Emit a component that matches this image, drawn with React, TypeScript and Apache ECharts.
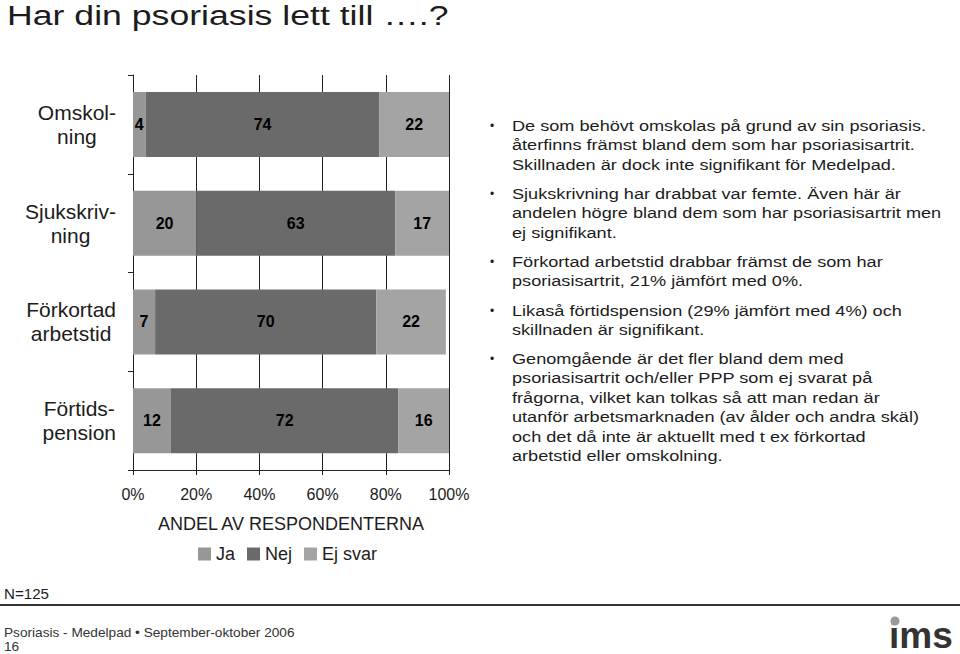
import React, { useEffect, useRef } from "react";
import * as echarts from "echarts";

// ---- data ----
const categories = ["Omskolning", "Sjukskrivning", "Förkortad arbetstid", "Förtidspension"];
const categoryLabelLines = [
  ["Omskol-", "ning"],
  ["Sjukskriv-", "ning"],
  ["Förkortad", "arbetstid"],
  ["Förtids-", "pension"],
];
const seriesNames = ["Ja", "Nej", "Ej svar"];
const jaValues = [4, 20, 7, 12];
const nejValues = [74, 63, 70, 72];
const ejSvarValues = [22, 17, 22, 16];
const xMin = 0;
const xMax = 100;
const xInterval = 20;

const titleText = "Har din psoriasis lett till ….?";
const axisTitle = "ANDEL AV RESPONDENTERNA";
const sampleNote = "N=125";
const footerLine1 = "Psoriasis - Medelpad • September-oktober 2006";
const footerLine2 = "16";
const bulletParagraphs = [
  [
    "De som behövt omskolas på grund av sin psoriasis.",
    "återfinns främst bland dem som har psoriasisartrit.",
    "Skillnaden är dock inte signifikant för Medelpad.",
  ],
  [
    "Sjukskrivning har drabbat var femte. Även här är",
    "andelen högre bland dem som har psoriasisartrit men",
    "ej signifikant.",
  ],
  ["Förkortad arbetstid drabbar främst de som har", "psoriasisartrit, 21% jämfört med 0%."],
  ["Likaså förtidspension (29% jämfört med 4%) och", "skillnaden är signifikant."],
  [
    "Genomgående är det fler bland dem med",
    "psoriasisartrit och/eller PPP som ej svarat på",
    "frågorna, vilket kan tolkas så att man redan är",
    "utanför arbetsmarknaden (av ålder och andra skäl)",
    "och det då inte är aktuellt med t ex förkortad",
    "arbetstid eller omskolning.",
  ],
];

// ---- style / layout ----
const FONT = "'Liberation Sans', Arial, Helvetica, sans-serif";
const COLORS = ["#979797", "#6a6a6a", "#a4a4a4"];
const TEXT_COLOR = "#1c1c1c";
const paragraphFirstLineCenters = [126, 194, 262, 311, 359];
const LINE_H = 19.5;

export default function App() {
  const ref = useRef<HTMLDivElement>(null);

  useEffect(() => {
    if (!ref.current) return;
    const chart = echarts.init(ref.current, undefined, { renderer: "svg" });

    const valueSets = [jaValues, nejValues, ejSvarValues];
    const series = seriesNames.map((name, i) => ({
      name,
      type: "bar",
      stack: "total",
      barWidth: 65,
      data: valueSets[i],
      itemStyle: { color: COLORS[i] },
      label: {
        show: true,
        position: "inside",
        formatter: "{c}",
        color: "#000",
        fontFamily: FONT,
        fontWeight: "bold",
        fontSize: 16,
      },
      emphasis: { disabled: true },
    }));

    const graphic: any[] = [
      {
        type: "text",
        x: 7,
        y: 16,
        scaleX: 1.32,
        style: {
          text: titleText,
          fontFamily: FONT,
          fontSize: 27,
          lineHeight: 27,
          fill: TEXT_COLOR,
          verticalAlign: "middle",
          textVerticalAlign: "middle",
        },
      },
      {
        type: "line",
        shape: { x1: 0, y1: 605, x2: 960, y2: 605 },
        style: { stroke: "#333", lineWidth: 2 },
      },
      {
        type: "text",
        x: 4,
        y: 594,
        scaleX: 1.08,
        style: {
          text: sampleNote,
          fontFamily: FONT,
          fontSize: 14,
          fill: TEXT_COLOR,
          verticalAlign: "middle",
          textVerticalAlign: "middle",
        },
      },
      {
        type: "text",
        x: 4,
        y: 633,
        scaleX: 1.05,
        style: {
          text: footerLine1,
          fontFamily: FONT,
          fontSize: 13,
          fill: "#333",
          verticalAlign: "middle",
          textVerticalAlign: "middle",
        },
      },
      {
        type: "text",
        x: 4,
        y: 647,
        scaleX: 1.05,
        style: {
          text: footerLine2,
          fontFamily: FONT,
          fontSize: 13,
          lineHeight: 13,
          fill: "#333",
          verticalAlign: "middle",
          textVerticalAlign: "middle",
        },
      },
      {
        type: "text",
        x: 889,
        y: 635,
        style: {
          text: "ims",
          fontFamily: FONT,
          fontSize: 37,
          lineHeight: 36,
          fontWeight: "bold",
          fill: "#333",
          verticalAlign: "middle",
          textVerticalAlign: "middle",
        },
      },
      {
        type: "circle",
        shape: { cx: 895, cy: 621, r: 4.5 },
        style: { fill: "#9a9a9a" },
      },
    ];

    bulletParagraphs.forEach((lines, i) => {
      const c = paragraphFirstLineCenters[i];
      graphic.push({
        type: "text",
        x: 490,
        y: c,
        style: {
          text: "•",
          fontFamily: FONT,
          fontSize: 12,
          fill: TEXT_COLOR,
          verticalAlign: "middle",
          textVerticalAlign: "middle",
        },
      });
      graphic.push({
        type: "text",
        x: 512,
        y: c - LINE_H / 2,
        scaleX: 1.21,
        style: {
          text: lines.join("\n"),
          fontFamily: FONT,
          fontSize: 15,
          lineHeight: LINE_H,
          fill: TEXT_COLOR,
          verticalAlign: "top",
          textVerticalAlign: "top",
        },
      });
    });

    chart.setOption({
      animation: false,
      backgroundColor: "#fff",
      textStyle: { fontFamily: FONT },
      grid: { left: 133, right: 511, top: 75, bottom: 184, containLabel: false },
      legend: {
        data: seriesNames,
        left: 198,
        top: 545,
        padding: 0,
        icon: "rect",
        itemWidth: 13,
        itemHeight: 13,
        itemGap: 12,
        textStyle: { fontFamily: FONT, fontSize: 18, color: TEXT_COLOR },
        selectedMode: false,
      },
      xAxis: {
        type: "value",
        min: xMin,
        max: xMax,
        interval: xInterval,
        name: axisTitle,
        nameLocation: "middle",
        nameGap: 45,
        nameTextStyle: { fontFamily: FONT, fontSize: 18, color: TEXT_COLOR },
        axisLine: { show: true, lineStyle: { color: "#222", width: 1 } },
        axisTick: { show: true, length: 5, lineStyle: { color: "#222" } },
        axisLabel: {
          formatter: "{value}%",
          fontFamily: FONT,
          fontSize: 16,
          color: TEXT_COLOR,
          margin: 16,
        },
        splitLine: { show: true, lineStyle: { color: "#222", width: 1 } },
      },
      yAxis: {
        type: "category",
        data: categories,
        inverse: true,
        axisLine: { show: true, lineStyle: { color: "#222", width: 1 } },
        axisTick: { show: true, length: 5, lineStyle: { color: "#222" } },
        axisLabel: {
          margin: 17,
          align: "right",
          formatter: (_v: string, idx: number) =>
            categoryLabelLines[idx].map((l) => `{l|${l}}`).join("\n"),
          rich: {
            l: {
              align: "center",
              fontFamily: FONT,
              fontSize: 21,
              lineHeight: 24,
              color: TEXT_COLOR,
            },
          },
        },
        splitLine: { show: false },
      },
      series,
      graphic,
    });

    return () => chart.dispose();
  }, []);

  return (
    <div
      ref={ref}
      style={{ position: "fixed", left: 0, top: 0, width: 960, height: 654, background: "#fff" }}
    />
  );
}
